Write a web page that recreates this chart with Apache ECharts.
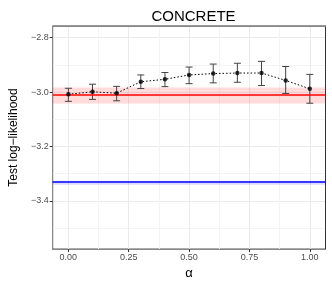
<!DOCTYPE html>
<html><head><meta charset="utf-8">
<script src="https://cdn.jsdelivr.net/npm/echarts@6/dist/echarts.min.js"></script>
<style>html,body{margin:0;padding:0;background:#fff}#c{width:332px;height:285px}</style>
</head><body><div id="c"></div>
<script>
const alphas = [0, 0.1, 0.2, 0.3, 0.4, 0.5, 0.6, 0.7, 0.8, 0.9, 1.0];
const means  = [-3.008, -2.999, -3.004, -2.962, -2.953, -2.937, -2.932, -2.930, -2.930, -2.957, -2.988];
const lower  = [-3.034, -3.027, -3.032, -2.987, -2.980, -2.969, -2.966, -2.964, -2.976, -3.005, -3.041];
const upper  = [-2.986, -2.971, -2.979, -2.937, -2.928, -2.908, -2.897, -2.894, -2.887, -2.906, -2.935];
const redMean = -3.013, redLo = -3.042, redHi = -2.983;
const blueMean = -3.333, blueLo = -3.341, blueHi = -3.326;
const xTicks = [0, 0.25, 0.5, 0.75, 1.0];
const yTicks = [-3.4, -3.2, -3.0, -2.8];
const xMinor = [-0.125, 0.125, 0.375, 0.625, 0.875, 1.125].filter(v => v > -0.065 && v < 1.065);
const yMinor = [-3.5, -3.3, -3.1, -2.9];

const X_MIN = -0.065, X_MAX = 1.065, Y_MIN = -3.5775, Y_MAX = -2.757;
const FONT = '"Liberation Sans", Arial, sans-serif';
const fmtY = v => (v < 0 ? '\u2212' : '') + Math.abs(v).toFixed(1);

const chart = echarts.init(document.getElementById('c'), null, {renderer: 'canvas'});
const errData = alphas.map((a, i) => [a, lower[i], upper[i]]);

chart.setOption({
  animation: false,
  backgroundColor: '#fff',
  title: {text: 'CONCRETE', left: 188.5, textAlign: 'center', top: 4,
    textStyle: {fontFamily: FONT, fontSize: 15, fontWeight: 'normal', color: '#000'}},
  grid: {left: 51.5, right: 6.5, top: 26, bottom: 34, show: true, borderColor: '#333', borderWidth: 1, containLabel: false},
  xAxis: [
    {type: 'value', min: X_MIN, max: X_MAX, position: 'bottom',
      name: '\u03b1', nameLocation: 'middle', nameGap: 15,
      nameTextStyle: {fontFamily: FONT, fontSize: 13, color: '#000'},
      axisLine: {show: true, onZero: false, lineStyle: {color: '#888', width: 1}},
      axisTick: {show: true, length: 3, customValues: xTicks, lineStyle: {color: '#333'}},
      axisLabel: {customValues: xTicks, formatter: v => v.toFixed(2), fontFamily: FONT, fontSize: 9, color: '#4d4d4d', margin: 4},
      splitLine: {show: true, lineStyle: {color: '#ebebeb', width: 1}}},
    {type: 'value', min: X_MIN, max: X_MAX, position: 'top',
      axisLine: {show: true, onZero: false, lineStyle: {color: '#888', width: 1}},
      axisTick: {show: false, customValues: xMinor},
      axisLabel: {show: false},
      splitLine: {show: true, lineStyle: {color: '#f4f4f4', width: 1}}}
  ],
  yAxis: [
    {type: 'value', min: Y_MIN, max: Y_MAX, position: 'left',
      name: 'Test log\u2212likelihood', nameLocation: 'middle', nameGap: 31,
      nameTextStyle: {fontFamily: FONT, fontSize: 12, color: '#000'},
      axisLine: {show: true, onZero: false, lineStyle: {color: '#888', width: 1}},
      axisTick: {show: true, length: 3, customValues: yTicks, lineStyle: {color: '#333'}},
      axisLabel: {customValues: yTicks, formatter: fmtY, fontFamily: FONT, fontSize: 9, color: '#4d4d4d', margin: 4},
      splitLine: {show: true, lineStyle: {color: '#ebebeb', width: 1}}},
    {type: 'value', min: Y_MIN, max: Y_MAX, position: 'right',
      axisLine: {show: true, onZero: false, lineStyle: {color: '#333', width: 1}},
      axisTick: {show: false, customValues: yMinor},
      axisLabel: {show: false},
      splitLine: {show: true, lineStyle: {color: '#f4f4f4', width: 1}}}
  ],
  series: [
    {type: 'line', data: [], xAxisIndex: 0, yAxisIndex: 0, silent: true,
      markArea: {silent: true, itemStyle: {color: 'rgba(255,0,0,0.14)'},
        data: [[{yAxis: redHi}, {yAxis: redLo}], ]},
      markLine: {silent: true, symbol: 'none', label: {show: false},
        lineStyle: {color: '#ff0000', width: 1.6, type: 'solid'},
        data: [{yAxis: redMean}]}},
    {type: 'line', data: [], xAxisIndex: 0, yAxisIndex: 0, silent: true,
      markArea: {silent: true, itemStyle: {color: 'rgba(0,0,255,0.14)'},
        data: [[{yAxis: blueHi}, {yAxis: blueLo}]]},
      markLine: {silent: true, symbol: 'none', label: {show: false},
        lineStyle: {color: '#0000ff', width: 1.6, type: 'solid'},
        data: [{yAxis: blueMean}]}},
    {type: 'line', data: alphas.map((a, i) => [a, means[i]]), xAxisIndex: 0, yAxisIndex: 0,
      symbol: 'none', lineStyle: {color: '#000', width: 1, type: [1.5, 2]}, z: 3},
    {type: 'custom', data: errData, xAxisIndex: 0, yAxisIndex: 0, z: 4,
      renderItem: (params, api) => {
        const x = api.value(0);
        const lo = api.coord([x, api.value(1)]);
        const hi = api.coord([x, api.value(2)]);
        const hw = 3.5;
        const style = {stroke: '#444', lineWidth: 1};
        return {type: 'group', children: [
          {type: 'line', shape: {x1: lo[0], y1: lo[1], x2: hi[0], y2: hi[1]}, style},
          {type: 'line', shape: {x1: lo[0] - hw, y1: lo[1], x2: lo[0] + hw, y2: lo[1]}, style},
          {type: 'line', shape: {x1: hi[0] - hw, y1: hi[1], x2: hi[0] + hw, y2: hi[1]}, style}
        ]};
      }},
    {type: 'scatter', data: alphas.map((a, i) => [a, means[i]]), xAxisIndex: 0, yAxisIndex: 0,
      symbol: 'circle', symbolSize: 4.5, itemStyle: {color: '#000'}, z: 5}
  ]
});
</script></body></html>
